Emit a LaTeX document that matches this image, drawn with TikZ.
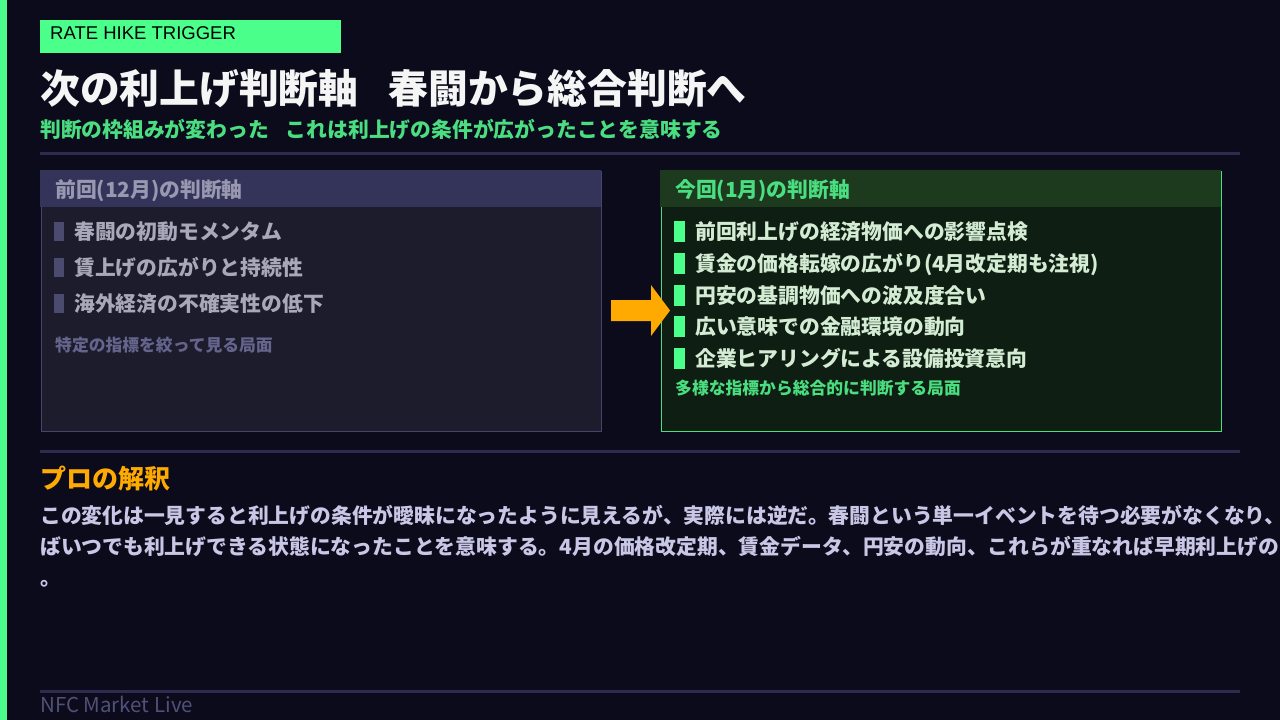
\documentclass[tikz,border=0pt]{standalone}
\usepackage{fontspec}
\setmainfont{Noto Sans CJK JP}
\newfontfamily\arialf{Liberation Sans}
\usetikzlibrary{calc}
\definecolor{bg}{HTML}{0B0B1C}
\definecolor{neon}{HTML}{4AFF8A}
\definecolor{sgreen}{HTML}{4ADE80}
\definecolor{divc}{HTML}{2E2B50}
\definecolor{lphead}{HTML}{34345A}
\definecolor{lpbody}{HTML}{1C1C2C}
\definecolor{lpborder}{HTML}{44446C}
\definecolor{lphtext}{HTML}{9898B0}
\definecolor{lpitem}{HTML}{A8A8BA}
\definecolor{lpbullet}{HTML}{4B4B70}
\definecolor{lpnote}{HTML}{64648C}
\definecolor{rphead}{HTML}{1E3A1E}
\definecolor{rpbody}{HTML}{0E1E12}
\definecolor{rpitem}{HTML}{D4ECD4}
\definecolor{arrowc}{HTML}{FFAA00}
\definecolor{bodyc}{HTML}{C8C8E6}
\definecolor{footc}{HTML}{505078}
\tikzset{
  txt/.style={anchor=base west, inner sep=0pt},
  mid/.style={font=\bfseries\fontsize{20.8}{24}\selectfont},
  itemL/.style={txt, mid, text=lpitem},
  itemR/.style={txt, mid, text=rpitem},
  note/.style={txt, font=\bfseries\fontsize{16.8}{20}\selectfont},
  bulL/.style={fill=lpbullet, inner sep=0pt, minimum width=10, minimum height=19, anchor=west},
  bulR/.style={fill=neon, inner sep=0pt, minimum width=11, minimum height=21, anchor=west},
  panel/.style={anchor=north west, inner sep=0pt, minimum width=560, minimum height=260, line width=1pt},
  phead/.style={anchor=north west, inner sep=0pt, minimum width=561, minimum height=37},
  divline/.style={draw=divc, line width=3pt},
}
\begin{document}
\begin{tikzpicture}[x=1pt,y=-1pt]
\useasboundingbox (0,0) rectangle (1280,720);
\fill[bg] (0,0) rectangle (1280,720);
\clip (0,0) rectangle (1280,720);
\fill[neon] (0,0) rectangle (7,720);

% tag
\node[fill=neon, anchor=north west, inner sep=0pt, minimum width=301, minimum height=32.5] (tag) at (40,20) {};
\node[anchor=base west, inner sep=0pt, font=\arialf\fontsize{18.5}{20}\selectfont, text=black] (tagtext) at (50,39.3) {RATE HIKE TRIGGER};

% title
\node[txt, text=white!96!black, font=\bfseries\fontsize{39.8}{44}\selectfont] (title) at (40,103) {次の利上げ判断軸\hspace{30pt}春闘から総合判断へ};
\node[txt, text=sgreen, mid] (subtitle) at (40,137.5) {判断の枠組みが変わった\hspace{17pt}これは利上げの条件が広がったことを意味する};

\coordinate (d1a) at (40,153.5);
\coordinate (d1b) at (1240,153.5);
\draw[divline] (d1a) -- (d1b);

% left panel
\node[panel, draw=lpborder, fill=lpbody] (lp) at (40.5,170.5) {};
\node[phead, fill=lphead] (lph) at (40,170) {};
\node[txt, mid, text=lphtext] (lpht) at (55,197) {前回(12月)の判断軸};
\node[bulL] (lb1) at (54,231) {};
\node[itemL] (li1) at (74,239) {春闘の初動モメンタム};
\node[bulL] (lb2) at (54,267) {};
\node[itemL] (li2) at (74,275) {賃上げの広がりと持続性};
\node[bulL] (lb3) at (54,303) {};
\node[itemL] (li3) at (74,311) {海外経済の不確実性の低下};
\node[note, text=lpnote] (lpn) at (55,351.5) {特定の指標を絞って見る局面};

% right panel
\node[panel, draw=sgreen, fill=rpbody] (rp) at (660.5,170.5) {};
\node[phead, fill=rphead] (rph) at (660,170) {};
\node[txt, mid, text=sgreen] (rpht) at (675,197) {今回(1月)の判断軸};
\node[bulR] (rb1) at (674,231) {};
\node[itemR] (ri1) at (695,239) {前回利上げの経済物価への影響点検};
\node[bulR] (rb2) at (674,263) {};
\node[itemR] (ri2) at (695,271) {賃金の価格転嫁の広がり(4月改定期も注視)};
\node[bulR] (rb3) at (674,295) {};
\node[itemR] (ri3) at (695,303) {円安の基調物価への波及度合い};
\node[bulR] (rb4) at (674,326.5) {};
\node[itemR] (ri4) at (695,334.5) {広い意味での金融環境の動向};
\node[bulR] (rb5) at (674,358) {};
\node[itemR] (ri5) at (695,366) {企業ヒアリングによる設備投資意向};
\node[note, text=sgreen] (rpn) at (675,394.5) {多様な指標から総合的に判断する局面};

% arrow between panels
\coordinate (as) at ($(lp.east)+(9.5,9.5)$);
\coordinate (ae) at ($(rp.west)+(9.5,9.5)$);
\fill[arrowc] ($(as)+(0,-10.5)$) -- ($(as)+(40,-10.5)$) -- ($(as)+(40,-25.5)$) -- (ae) -- ($(as)+(40,25.5)$) -- ($(as)+(40,10.5)$) -- ($(as)+(0,10.5)$) -- cycle;

\coordinate (d2a) at (40,451);
\coordinate (d2b) at (1240,451);
\draw[divline] (d2a) -- (d2b);

% interpretation
\node[txt, text=arrowc, font=\bfseries\fontsize{26}{30}\selectfont] (pro) at (40,488) {プロの解釈};
\node[txt, mid, text=bodyc] (body1) at (40,523) {この変化は一見すると利上げの条件が曖昧になったように見えるが、実際には逆だ。春闘という単一イベントを待つ必要がなくなり、};
\node[txt, mid, text=bodyc] (body2) at (40,554) {ばいつでも利上げできる状態になったことを意味する。4月の価格改定期、賃金データ、円安の動向、これらが重なれば早期利上げの};
\node[txt, mid, text=bodyc] (body3) at (40,585) {。};

% footer
\coordinate (d3a) at (40,691);
\coordinate (d3b) at (1240,691);
\draw[divline] (d3a) -- (d3b);
\node[txt, text=footc, font=\fontsize{20.5}{24}\selectfont] (foot) at (40,712) {NFC Market Live};
\end{tikzpicture}
\end{document}
